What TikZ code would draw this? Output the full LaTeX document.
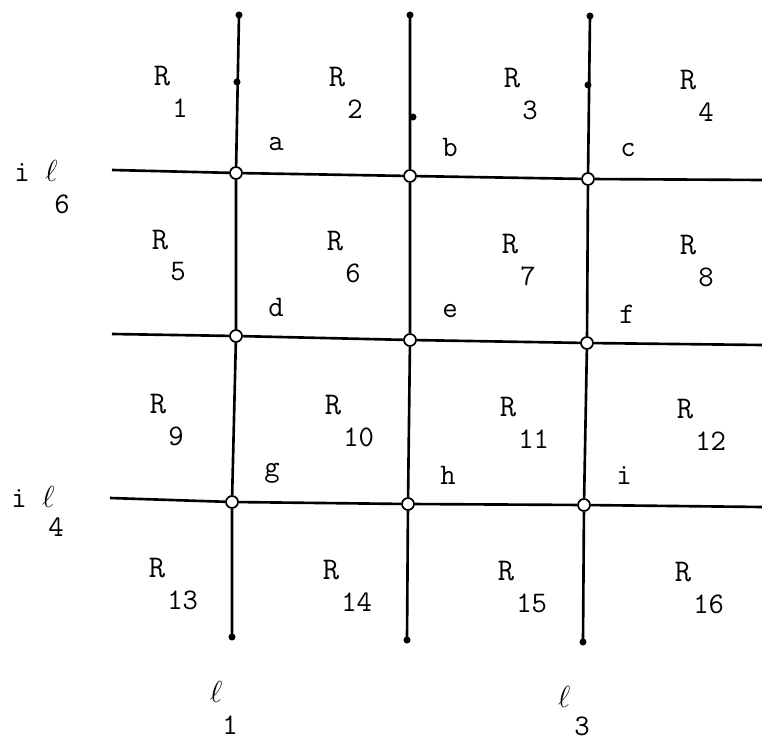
\documentclass[tikz,border=0pt]{standalone}
\usepackage{fontspec}
\usetikzlibrary{positioning}

\tikzset{
  knot/.style={circle, draw, fill=white, line width=1pt, inner sep=0pt, minimum size=0.24cm},
  wire/.style={line width=1.5pt},
  rlab/.style={font=\ttfamily\fontsize{18}{20}\selectfont, inner sep=0pt},
  idx/.style={font=\ttfamily\fontsize{17}{19}\selectfont, inner sep=0pt},
}

\begin{document}
\begin{tikzpicture}[x=0.02cm, y=-0.02cm]
\useasboundingbox (0,0) rectangle (762,740);

        % Wezly
        \node[knot] (a) at (236,173) {};
        \node[knot] (b) at (410,176) {};
        \node[knot] (c) at (588,179) {};
        \node[knot] (d) at (236,336) {};
        \node[knot] (e) at (410,340) {};
        \node[knot] (f) at (587,343) {};
        \node[knot] (g) at (232,502) {};
        \node[knot] (h) at (408,504) {};
        \node[knot] (i) at (584,505) {};

        % Konce linii
        \coordinate (T1) at (239,15);
        \coordinate (T2) at (410,15);
        \coordinate (T3) at (590,16);
        \coordinate (B1) at (232,637);
        \coordinate (B2) at (407,640);
        \coordinate (B3) at (583,642);
        \coordinate (L1) at (112,170);
        \coordinate (L2) at (112,334);
        \coordinate (L3) at (110,498);
        \coordinate (P1) at (762,180);
        \coordinate (P2) at (762,345);
        \coordinate (P3) at (762,507);
        \coordinate (M1) at (237,82);
        \coordinate (M2) at (413,117);
        \coordinate (M3) at (588,85);

        \draw[wire] (L1) -- (a) -- (b) -- (c) -- (P1);
        \draw[wire] (L2) -- (d) -- (e) -- (f) -- (P2);
        \draw[wire] (L3) -- (g) -- (h) -- (i) -- (P3);
        \draw[wire] (T1) -- (a) -- (d) -- (g) -- (B1);
        \draw[wire] (T2) -- (b) -- (e) -- (h) -- (B2);
        \draw[wire] (T3) -- (c) -- (f) -- (i) -- (B3);

        \foreach \p in {T1,T2,T3,B1,B2,B3,M1,M2,M3}
          \fill (\p) circle[radius=2pt];

        % Etykiety wezlow
        \foreach \k in {a,b,c,d,e,f,g,h,i}
          \node[idx] (l\k) at ([shift={(40,-29)}]\k) {\k};

        % Obszary
        \foreach \n/\x/\y in {1/162/76, 2/337/77, 3/512/78, 4/688/80,
                              5/160/240, 6/335/241, 7/510/244, 8/688/245,
                              9/158/404, 10/333/405, 11/508/407, 12/685/409,
                              13/157/568, 14/331/570, 15/506/571, 16/683/572}
        {
          \node[rlab] (r\n) at (\x,\y) {R};
          \node[idx, anchor=west] (n\n) at (\x+10,\y+32) {\n};
        }

        % Opisy linii
        \node[idx] (il6) at (36,171) {i $\ell$};
        \node[idx] (s6) at (62,204) {6};
        \node[idx] (il4) at (33,497) {i $\ell$};
        \node[idx] (s4) at (56,527) {4};
        \node[idx] (l1) at (216,692) {$\ell$};
        \node[idx] (s1) at (230,725) {1};
        \node[idx] (l3) at (564,697) {$\ell$};
        \node[idx] (s3) at (582,726) {3};
\end{tikzpicture}
\end{document}
